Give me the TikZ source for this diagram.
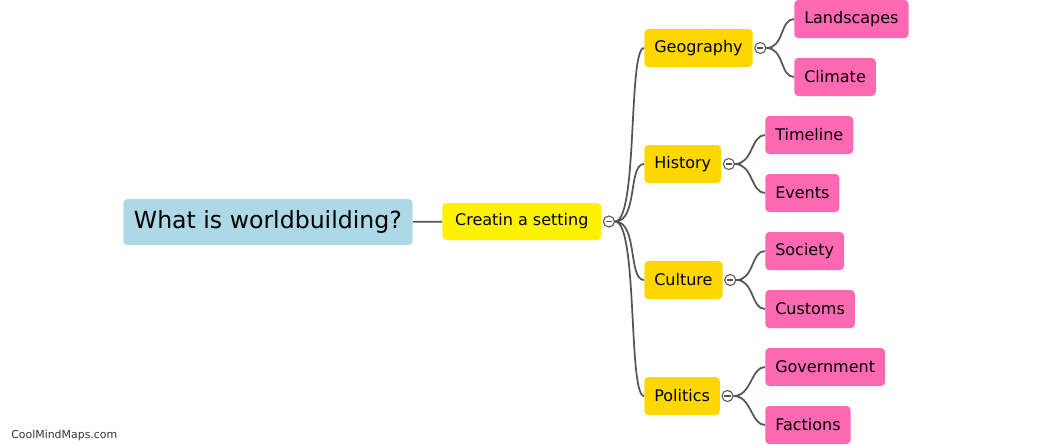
\documentclass[tikz,border=0pt]{standalone}
\usepackage{fontspec}
\setmainfont{DejaVu Sans}
\usepackage{xcolor}
\usetikzlibrary{positioning}
\definecolor{rootblue}{HTML}{ADD8E6}
\definecolor{topicgold}{HTML}{FFD700}
\definecolor{leafpink}{HTML}{FF69B4}
\definecolor{linkgray}{HTML}{555555}
\begin{document}
\begin{tikzpicture}[x=0.75pt,y=-0.75pt,
  box/.style={rounded corners=3pt,inner xsep=7.5pt,inner ysep=0pt,minimum height=28.5pt,anchor=west,font=\fontsize{12}{14}\selectfont},
  rootbox/.style={box,fill=rootblue,minimum height=34.5pt,inner xsep=8pt,font=\fontsize{17.7}{20}\selectfont},
  mainbox/.style={box,fill=yellow,minimum height=27.75pt,minimum width=119.25pt},
  topic/.style={box,fill=topicgold},
  leaf/.style={box,fill=leafpink},
  link/.style={draw=linkgray,line width=1.3pt},
  knob/.style={circle,draw=linkgray,fill=white,line width=0.8pt,inner sep=0pt,minimum size=8.3pt,
    path picture={\draw[linkgray,line width=0.9pt] ([xshift=-2.3pt]path picture bounding box.center) -- ([xshift=2.3pt]path picture bounding box.center);}}]
\useasboundingbox (0,0) rectangle (1045,444);
\node[rootbox] (root) at (123,222) {What is worldbuilding?};
\node[mainbox] (setting) at (442,221.5) {Creatin a setting};
\node[topic] (geo) at (644,48) {Geography};
\node[topic] (hist) at (644,164) {History};
\node[topic] (cult) at (644,280) {Culture};
\node[topic] (pol) at (644,396) {Politics};
\node[leaf] (land) at (794,19) {Landscapes};
\node[leaf] (clim) at (794,77) {Climate};
\node[leaf] (time) at (765,135) {Timeline};
\node[leaf] (events) at (765,193) {Events};
\node[leaf] (society) at (765,251) {Society};
\node[leaf] (customs) at (765,309) {Customs};
\node[leaf] (gov) at (765,367) {Government};
\node[leaf] (fact) at (765,425) {Factions};
% collapse knobs
\node[knob,right=1pt of setting] (kset) {};
\node[knob,right=1pt of geo] (kgeo) {};
\node[knob,right=1pt of hist] (khist) {};
\node[knob,right=1pt of cult] (kcult) {};
\node[knob,right=1pt of pol] (kpol) {};
% links
\draw[link] (root) -- (setting);
\draw[link] (kset.east) .. controls +(23,0) and +(-16,0) .. (geo.west);
\draw[link] (kset.east) .. controls +(23,0) and +(-16,0) .. (hist.west);
\draw[link] (kset.east) .. controls +(23,0) and +(-16,0) .. (cult.west);
\draw[link] (kset.east) .. controls +(23,0) and +(-16,0) .. (pol.west);
\draw[link] (kgeo.east) .. controls +(18,0) and +(-14,0) .. (land.west);
\draw[link] (kgeo.east) .. controls +(18,0) and +(-14,0) .. (clim.west);
\draw[link] (khist.east) .. controls +(18,0) and +(-14,0) .. (time.west);
\draw[link] (khist.east) .. controls +(18,0) and +(-14,0) .. (events.west);
\draw[link] (kcult.east) .. controls +(18,0) and +(-14,0) .. (society.west);
\draw[link] (kcult.east) .. controls +(18,0) and +(-14,0) .. (customs.west);
\draw[link] (kpol.east) .. controls +(18,0) and +(-14,0) .. (gov.west);
\draw[link] (kpol.east) .. controls +(18,0) and +(-14,0) .. (fact.west);
\node[anchor=west,inner sep=0pt,text=black!80,font=\fontsize{8.2}{10}\selectfont] (mark) at (11,435) {CoolMindMaps.com};
\end{tikzpicture}
\end{document}
